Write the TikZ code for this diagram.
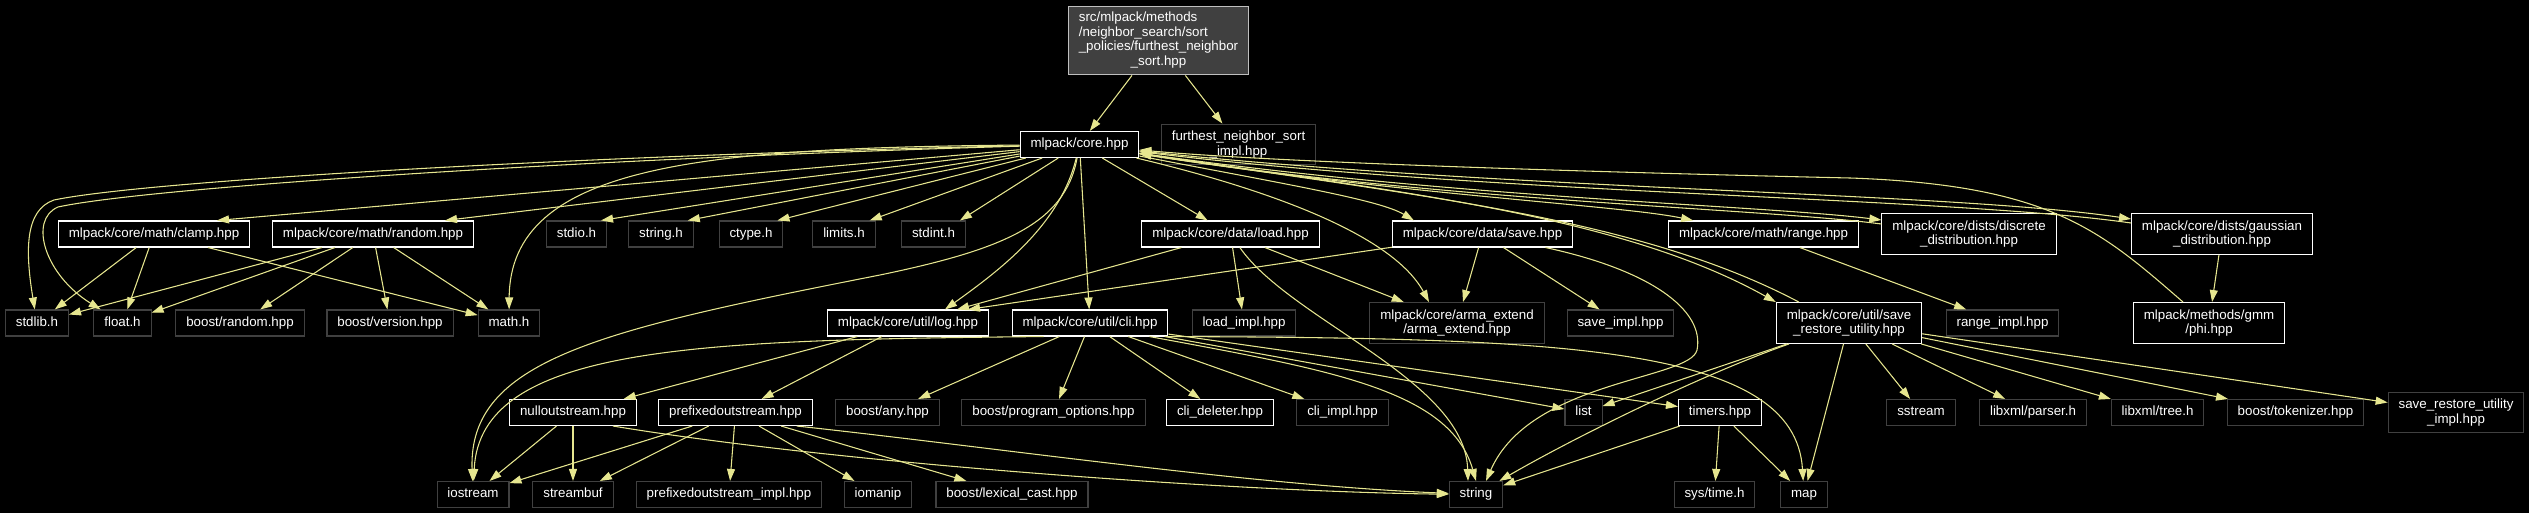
\documentclass[tikz,border=0pt]{standalone}
\usepackage{fontspec}
\setmainfont{Liberation Sans}
\usetikzlibrary{arrows.meta,calc}

\definecolor{edgecol}{RGB}{230,230,143}
\definecolor{rootfill}{RGB}{64,64,64}
\definecolor{rootline}{RGB}{191,191,191}
\definecolor{extline}{RGB}{64,64,64}

\tikzset{
  filebase/.style={draw=white, text=white, line width=0.8pt, inner xsep=7.8pt,
    font=\fontsize{10}{10.9}\selectfont},
  file/.style={filebase, text height=7.3pt, text depth=2.1pt, inner ysep=0pt, minimum height=19.5pt},
  file2/.style={filebase, align=center, inner ysep=5.2pt},
  ext/.style={draw=extline},
  rootfile/.style={filebase, draw=rootline, fill=rootfill, inner ysep=4pt},
  incl/.style={->, draw=edgecol, line width=0.8pt}
}

\begin{document}
\begin{tikzpicture}[x=0.75pt, y=-0.75pt, >={Triangle[length=9pt,width=6pt]}]
\fill[black] (0,0) rectangle (2529,513);
\useasboundingbox (0,0) rectangle (2529,513);

% root and first level
\node[rootfile] (root) at (1158.5,40.5) {\begin{tabular}{@{}l@{}}src/mlpack/methods\\/neighbor\_search/sort\\\_policies/furthest\_neighbor\\\multicolumn{1}{@{}c@{}}{\_sort.hpp}\end{tabular}};
\node[file] (core) at (1079.5,144.5) {mlpack/core.hpp};
\node[file2, ext] (fnsimpl) at (1238.5,144.5) {furthest\_neighbor\_sort\\\_impl.hpp};

% second level
\node[file] (clamp) at (154,234) {mlpack/core/math/clamp.hpp};
\node[file] (random) at (373,234) {mlpack/core/math/random.hpp};
\node[file, ext] (stdio) at (576.5,234) {stdio.h};
\node[file, ext] (stringh) at (661,234) {string.h};
\node[file, ext] (ctype) at (751,234) {ctype.h};
\node[file, ext] (limits) at (844,234) {limits.h};
\node[file, ext] (stdint) at (933.5,234) {stdint.h};
\node[file] (load) at (1230.5,234) {mlpack/core/data/load.hpp};
\node[file] (save) at (1482.5,234) {mlpack/core/data/save.hpp};
\node[file] (range) at (1763.5,234) {mlpack/core/math/range.hpp};
\node[file2] (discrete) at (1969,234) {mlpack/core/dists/discrete\\\_distribution.hpp};
\node[file2] (gaussian) at (2222,234) {mlpack/core/dists/gaussian\\\_distribution.hpp};

% third level
\node[file, ext] (stdlib) at (37,323) {stdlib.h};
\node[file, ext] (floath) at (122.5,323) {float.h};
\node[file, ext] (brandom) at (240,323) {boost/random.hpp};
\node[file, ext] (bversion) at (390,323) {boost/version.hpp};
\node[file, ext] (mathh) at (509,323) {math.h};
\node[file] (log) at (908,323) {mlpack/core/util/log.hpp};
\node[file] (cli) at (1090,323) {mlpack/core/util/cli.hpp};
\node[file, ext] (loadimpl) at (1244,323) {load\_impl.hpp};
\node[file2, ext] (arma) at (1457,323) {mlpack/core/arma\_extend\\/arma\_extend.hpp};
\node[file, ext] (saveimpl) at (1620.5,323) {save\_impl.hpp};
\node[file2] (sru) at (1849,323) {mlpack/core/util/save\\\_restore\_utility.hpp};
\node[file, ext] (rangeimpl) at (2002.5,323) {range\_impl.hpp};
\node[file2] (phi) at (2209,323) {mlpack/methods/gmm\\/phi.hpp};

% fourth level
\node[file] (nullos) at (573,412.5) {nulloutstream.hpp};
\node[file] (prefos) at (735.5,412.5) {prefixedoutstream.hpp};
\node[file, ext] (bany) at (887.5,412.5) {boost/any.hpp};
\node[file, ext] (bpo) at (1053.5,412.5) {boost/program\_options.hpp};
\node[file] (clidel) at (1220,412.5) {cli\_deleter.hpp};
\node[file, ext] (cliimpl) at (1342.5,412.5) {cli\_impl.hpp};
\node[file, ext] (list) at (1583.5,412.5) {list};
\node[file] (timers) at (1720,412.5) {timers.hpp};
\node[file, ext] (sstream) at (1921,412.5) {sstream};
\node[file, ext] (xmlparser) at (2033,412.5) {libxml/parser.h};
\node[file, ext] (xmltree) at (2157.5,412.5) {libxml/tree.h};
\node[file, ext] (btok) at (2295.5,412.5) {boost/tokenizer.hpp};
\node[file2, ext] (sruimpl) at (2456,412.5) {save\_restore\_utility\\\_impl.hpp};

% fifth level
\node[file, ext] (iostream) at (473,494.5) {iostream};
\node[file, ext] (streambuf) at (573,494.5) {streambuf};
\node[file, ext] (prefosimpl) at (729,494.5) {prefixedoutstream\_impl.hpp};
\node[file, ext] (iomanip) at (878,494.5) {iomanip};
\node[file, ext] (lexcast) at (1012,494.5) {boost/lexical\_cast.hpp};
\node[file, ext] (string) at (1476,494.5) {string};
\node[file, ext] (systime) at (1714.5,494.5) {sys/time.h};
\node[file, ext] (map) at (1804,494.5) {map};

% straight includes
\foreach \a/\b in {root/core, root/fnsimpl, core/load, core/cli,
    clamp/stdlib, clamp/floath, clamp/mathh,
    random/stdlib, random/floath, random/brandom, random/bversion, random/mathh,
    load/log, load/loadimpl, load/arma, save/arma, save/saveimpl,
    range/rangeimpl, gaussian/phi, log/nullos, log/prefos,
    cli/bany, cli/bpo, cli/clidel, cli/cliimpl, cli/list, cli/timers,
    nullos/iostream, nullos/streambuf, prefos/iostream, prefos/streambuf,
    prefos/prefosimpl, prefos/iomanip, prefos/lexcast,
    timers/systime, timers/map, timers/string,
    sru/list, sru/map, sru/sstream, sru/xmlparser, sru/xmltree, sru/btok, sru/sruimpl}
  \draw[incl] (\a) -- (\b);

% core.hpp to the headers on its left
\draw[incl] (core) -- ($(clamp.north)+(63,0)$);
\draw[incl] (core) -- ($(random.north)+(72,0)$);
\draw[incl] (core) -- ($(stdio.north east)+(-6,0)$);
\draw[incl] (core) -- ($(stringh.north east)+(-6,0)$);
\draw[incl] (core) -- ($(ctype.north east)+(-6,0)$);
\draw[incl] (core) -- ($(limits.north east)+(-6,0)$);
\draw[incl] (core) -- ($(stdint.north east)+(-6,0)$);
\draw[incl] (core) .. controls (600,155) and (150,180) .. (54,200)
  .. controls (25,210) and (25,250) .. (stdlib);
\draw[incl] (core) .. controls (600,158) and (150,187) .. (58,207)
  .. controls (28,220) and (45,275) .. (floath);
\draw[incl] (core) .. controls (700,148) and (510,165) .. (mathh);
\draw[incl] (core) .. controls (1065,225) and (1000,250) .. (880,275)
  .. controls (600,330) and (468,360) .. (iostream);
\draw[incl] (core) .. controls (1060,225) and (1000,270) .. ($(log.north)+(37,0)$);

% core.hpp to the headers on its right, and the way back
\draw[incl] (core) .. controls (1290,185) and (1380,200) .. ($(save.north west)+(22,0)$);
\draw[incl] (core) .. controls (1250,185) and (1390,230) .. ($(arma.north)+(-28,0)$);
\draw[incl] (core) .. controls (1400,195) and (1620,205) .. ($(range.north west)+(25,0)$);
\draw[incl] (core) .. controls (1450,198) and (1760,205) .. ($(discrete.west)+(0,-14)$);
\draw[incl] ($(discrete.west)+(0,-10)$) .. controls (1760,208) and (1450,202) .. (core);
\draw[incl] (core) .. controls (1500,190) and (1950,192) .. ($(gaussian.west)+(0,-15)$);
\draw[incl] ($(gaussian.west)+(0,-11)$) .. controls (1950,197) and (1500,195) .. (core);
\draw[incl] (core) .. controls (1400,192) and (1620,215) .. (sru.north west);
\draw[incl] ($(sru.north west)+(23,0)$) .. controls (1640,218) and (1420,196) .. (core);
\draw[incl] ($(phi.north)+(-26,0)$) .. controls (2100,230) and (2050,185) .. (1850,178)
  .. controls (1500,170) and (1250,160) .. (core);

% second and third level curves
\draw[incl] (save) -- ($(log.north)+(60,0)$);
\draw[incl] (load) .. controls (1290,320) and (1465,380) .. ($(string.north)+(-8,0)$);
\draw[incl] (save) .. controls (1650,270) and (1705,310) .. (1697,350)
  .. controls (1690,380) and (1530,380) .. ($(string.north)+(10,0)$);
\draw[incl] ($(cli.south west)+(32,0)$) .. controls (700,340) and (480,345) .. (iostream);
\draw[incl] ($(cli.south east)+(-19,0)$) .. controls (1330,370) and (1450,390) .. (string.north);
\draw[incl] ($(cli.south east)+(-2,0)$) .. controls (1560,338) and (1795,345) .. (map);
\draw[incl] ($(nullos.south east)+(-24,0)$) .. controls (850,465) and (1250,492) .. (string);
\draw[incl] ($(prefos.south east)+(-16,0)$) .. controls (1000,448) and (1250,485) .. (string);
\draw[incl] (sru) .. controls (1700,375) and (1570,440) .. (string);
\end{tikzpicture}
\end{document}
